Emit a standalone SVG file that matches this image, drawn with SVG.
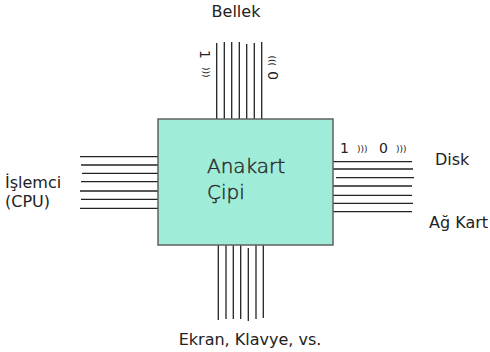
<svg xmlns="http://www.w3.org/2000/svg" width="490" height="352" viewBox="0 0 490 352">
<style>
.w{stroke:#222;stroke-width:1.3;fill:none}
.lbl{font-family:"DejaVu Sans",sans-serif;font-size:16px;fill:#222}
.bit{font-family:"DejaVu Sans",sans-serif;font-size:14px;fill:#222}
.sm{font-family:"DejaVu Sans",sans-serif;font-size:9px;fill:#222}
.chip{fill:#9fecd9;stroke:#606060;stroke-width:1.5}
.ct{font-family:"DejaVu Sans",sans-serif;font-size:20px;font-weight:200;fill:#2a2a2a;stroke:#2a2a2a;stroke-width:0.45}
</style>
<rect width="490" height="352" fill="#fff"/>
<g id="connectors">
<g id="bus-top">
<line class="w" x1="216.7" y1="43" x2="216.7" y2="119"/>
<line class="w" x1="224.3" y1="42" x2="224.3" y2="119"/>
<line class="w" x1="231.7" y1="42" x2="231.7" y2="119"/>
<line class="w" x1="239.3" y1="42" x2="239.3" y2="119"/>
<line class="w" x1="246.7" y1="44" x2="246.7" y2="122"/>
<line class="w" x1="254.3" y1="43" x2="254.3" y2="119"/>
<line class="w" x1="261.7" y1="42" x2="261.7" y2="119"/>
</g>
<g id="bus-left">
<line class="w" x1="80" y1="156.7" x2="158" y2="156.7"/>
<line class="w" x1="81" y1="165" x2="158" y2="165"/>
<line class="w" x1="82" y1="173.3" x2="161" y2="173.3"/>
<line class="w" x1="81" y1="181.7" x2="158" y2="181.7"/>
<line class="w" x1="80" y1="191" x2="158" y2="191"/>
<line class="w" x1="81" y1="199.3" x2="158" y2="199.3"/>
<line class="w" x1="80" y1="208.3" x2="158" y2="208.3"/>
</g>
<g id="bus-right">
<line class="w" x1="333" y1="161.7" x2="412" y2="161.7"/>
<line class="w" x1="333" y1="169" x2="413" y2="169"/>
<line class="w" x1="336" y1="177.7" x2="414" y2="177.7"/>
<line class="w" x1="333" y1="186" x2="412" y2="186"/>
<line class="w" x1="333" y1="195.3" x2="412" y2="195.3"/>
<line class="w" x1="333" y1="203.3" x2="413" y2="203.3"/>
<line class="w" x1="333" y1="211.7" x2="412" y2="211.7"/>
</g>
<g id="bus-bottom">
<line class="w" x1="218.3" y1="245" x2="218.3" y2="320"/>
<line class="w" x1="226" y1="245" x2="226" y2="319"/>
<line class="w" x1="233.3" y1="245" x2="233.3" y2="319"/>
<line class="w" x1="240.7" y1="245" x2="240.7" y2="319"/>
<line class="w" x1="248.3" y1="248" x2="248.3" y2="321"/>
<line class="w" x1="256" y1="245" x2="256" y2="319"/>
<line class="w" x1="263.3" y1="245" x2="263.3" y2="318"/>
</g>
</g>
<g id="chip">
<rect class="chip" x="158" y="119" width="175" height="126"/>
<text class="ct" x="207" y="173">Anakart</text>
<text class="ct" x="207" y="199">Çipi</text>
</g>
<g id="bellek">
<text class="lbl" x="236" y="17" text-anchor="middle">Bellek</text>
<text class="bit" transform="translate(200,50) rotate(90)">1</text>
<text class="sm" transform="translate(203,67) rotate(90)">)))</text>
<text class="bit" transform="translate(278,80) rotate(-90)">0</text>
<text class="sm" transform="translate(275,66) rotate(-90)">)))</text>
</g>
<g id="cpu">
<text class="lbl" x="5" y="188">İşlemci</text>
<text class="lbl" x="5" y="207">(CPU)</text>
</g>
<g id="disk">
<text class="lbl" x="435" y="165">Disk</text>
<text class="bit" x="340" y="153">1</text>
<text class="sm" x="357" y="152">)))</text>
<text class="bit" x="379" y="153">0</text>
<text class="sm" x="396" y="152">)))</text>
</g>
<g id="ag-kart">
<text class="lbl" x="429" y="228">Ağ Kart</text>
</g>
<g id="io">
<text class="lbl" x="250" y="345" text-anchor="middle" font-size="16.6">Ekran, Klavye, vs.</text>
</g>
</svg>
